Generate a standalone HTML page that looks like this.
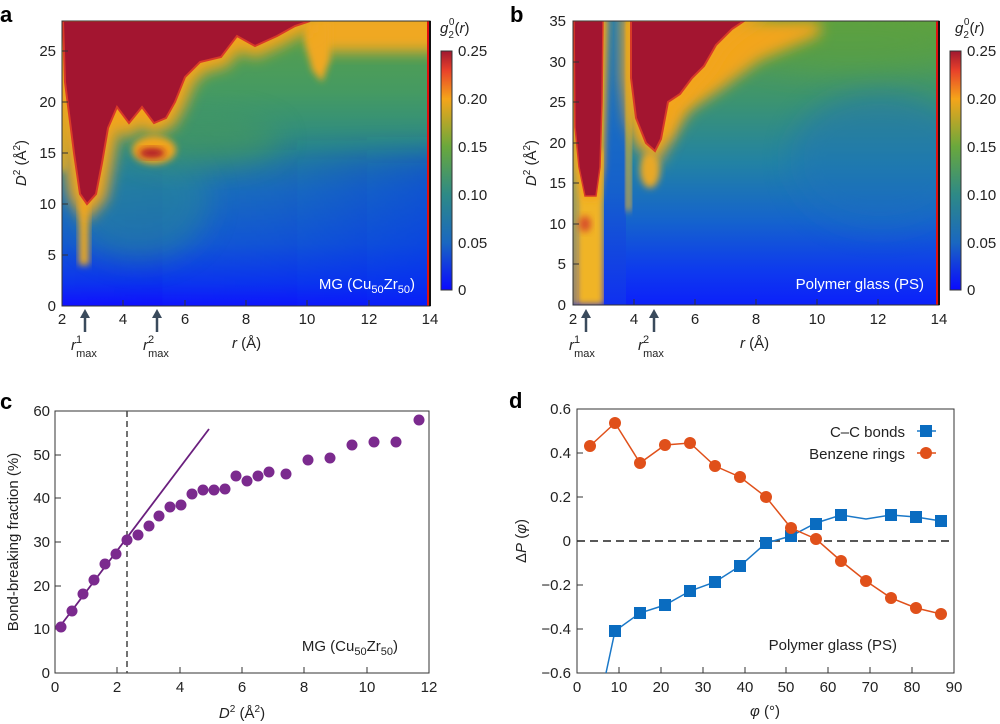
<!DOCTYPE html>
<html><head><meta charset="utf-8"><style>
body{margin:0;background:#fff;}
svg{display:block;font-family:"Liberation Sans","DejaVu Sans",sans-serif;}
.t{font-size:15px;fill:#222;}
.lab{font-size:22px;font-weight:bold;fill:#000;}
</style></head><body>
<svg width="1000" height="724" viewBox="0 0 1000 724" xmlns="http://www.w3.org/2000/svg">
<defs>
<linearGradient id="cb" x1="0" y1="1" x2="0" y2="0">
<stop offset="0" stop-color="#0a0aff"/><stop offset="0.2" stop-color="#1a68c0"/>
<stop offset="0.4" stop-color="#2e8a86"/><stop offset="0.6" stop-color="#6aa83c"/>
<stop offset="0.8" stop-color="#f5a51a"/><stop offset="0.92" stop-color="#e8402a"/>
<stop offset="1" stop-color="#a01830"/></linearGradient>
<linearGradient id="ga" x1="0" y1="0" x2="0" y2="1">
<stop offset="0" stop-color="#58a048"/><stop offset="0.25" stop-color="#459a62"/>
<stop offset="0.45" stop-color="#2a8a86"/><stop offset="0.6" stop-color="#1c72b6"/>
<stop offset="0.78" stop-color="#145ad0"/><stop offset="0.92" stop-color="#0c34ee"/>
<stop offset="1" stop-color="#1010ff"/></linearGradient>
<linearGradient id="gah" x1="0" y1="0" x2="1" y2="0">
<stop offset="0" stop-color="#0c30f0" stop-opacity="0"/><stop offset="0.5" stop-color="#0c30f0" stop-opacity="0.15"/><stop offset="1" stop-color="#0c30f0" stop-opacity="0.55"/></linearGradient>
<linearGradient id="gb" x1="0" y1="0" x2="0" y2="1">
<stop offset="0" stop-color="#62a23e"/><stop offset="0.28" stop-color="#3c9470"/>
<stop offset="0.5" stop-color="#2282a4"/><stop offset="0.7" stop-color="#1564cc"/>
<stop offset="0.88" stop-color="#0e3aee"/><stop offset="1" stop-color="#0c20fa"/></linearGradient>
<linearGradient id="gcol" x1="0" y1="0" x2="0" y2="1">
<stop offset="0" stop-color="#1f7cb4"/><stop offset="0.6" stop-color="#1560cc"/><stop offset="1" stop-color="#1030f0"/></linearGradient>
<filter id="b8" x="-30%" y="-30%" width="160%" height="160%"><feGaussianBlur stdDeviation="7"/></filter>
<filter id="b4" x="-30%" y="-30%" width="160%" height="160%"><feGaussianBlur stdDeviation="3.5"/></filter>
<filter id="b15" x="-50%" y="-50%" width="200%" height="200%"><feGaussianBlur stdDeviation="14"/></filter>
<clipPath id="ca"><rect x="62" y="21" width="368" height="285"/></clipPath>
<clipPath id="cbp"><rect x="573" y="21" width="366" height="284"/></clipPath>
</defs>

<!-- Panel a -->
<text class="lab" x="0" y="22">a</text>
<g clip-path="url(#ca)">
<rect x="62" y="21" width="368" height="285" fill="url(#ga)"/>
<rect x="62" y="150" width="420" height="200" fill="url(#gah)" filter="url(#b15)"/>
<ellipse cx="140" cy="200" rx="70" ry="60" fill="#2a8a90" opacity="0.5" filter="url(#b15)"/>
<ellipse cx="200" cy="140" rx="80" ry="25" fill="#4f9c50" opacity="0.5" filter="url(#b15)"/>
<rect x="310" y="10" width="130" height="42" fill="#f0a820" filter="url(#b8)"/>
<polygon points="305,21 330,21 330,60 322,82 312,70 305,40" fill="#f0a820" filter="url(#b4)"/>
<rect x="58" y="21" width="8" height="150" fill="#d8b02a" filter="url(#b4)"/>
<rect x="79" y="200" width="10" height="65" fill="#e8a828" filter="url(#b4)"/>
<polygon points="65,21 65,82 74,153 80,194 87,204 96,194 102,163 108,128 117,107 129,123 142,107 154,123 166,118 175,102 185,77 200,62 221,57 237,36 255,46 277,36 295,26 310,21" fill="#f2a51c" stroke="#f2a51c" stroke-width="22" filter="url(#b8)"/>
<ellipse cx="154" cy="150" rx="22" ry="14" fill="#f2a51c" filter="url(#b4)"/>
<polygon points="63,21 65,82 74,153 80,194 87,204 96,194 102,163 108,128 117,107 129,123 142,107 154,123 166,118 175,102 185,77 200,62 221,57 237,36 255,46 277,36 295,26 310,21" fill="#a31530" stroke="#d83a28" stroke-width="2"/>
<ellipse cx="152" cy="153" rx="13" ry="5" fill="#b0182a" filter="url(#b4)"/>
<rect x="427" y="21" width="3" height="285" fill="#e01010"/>
</g>
<rect x="62" y="21" width="368" height="285" fill="none" stroke="#333" stroke-width="1"/>
<line x1="430" y1="21" x2="430" y2="306" stroke="#111" stroke-width="2"/>
<g stroke="#333" stroke-width="1">
<line x1="123" y1="306" x2="123" y2="300"/><line x1="185" y1="306" x2="185" y2="300"/><line x1="246" y1="306" x2="246" y2="300"/><line x1="307" y1="306" x2="307" y2="300"/><line x1="369" y1="306" x2="369" y2="300"/>
<line x1="62" y1="255" x2="68" y2="255"/><line x1="62" y1="204" x2="68" y2="204"/><line x1="62" y1="153" x2="68" y2="153"/><line x1="62" y1="102" x2="68" y2="102"/><line x1="62" y1="51" x2="68" y2="51"/>
</g>
<g class="t" text-anchor="end"><text x="56" y="311">0</text><text x="56" y="260">5</text><text x="56" y="209">10</text><text x="56" y="158">15</text><text x="56" y="107">20</text><text x="56" y="56">25</text></g>
<g class="t" text-anchor="middle"><text x="62" y="324">2</text><text x="123" y="324">4</text><text x="185" y="324">6</text><text x="246" y="324">8</text><text x="307" y="324">10</text><text x="369" y="324">12</text><text x="430" y="324">14</text></g>
<text x="415" y="289" text-anchor="end" style="font-size:15px;fill:#fff">MG (Cu<tspan dy="4" font-size="11">50</tspan><tspan dy="-4">Zr</tspan><tspan dy="4" font-size="11">50</tspan><tspan dy="-4">)</tspan></text>
<text transform="translate(26,163) rotate(-90)" text-anchor="middle" class="t"><tspan font-style="italic">D</tspan><tspan dy="-6" font-size="10">2</tspan><tspan dy="6"> (Å</tspan><tspan dy="-6" font-size="10">2</tspan><tspan dy="6">)</tspan></text>
<g fill="#3a4a5c" stroke="#3a4a5c">
<line x1="85" y1="314" x2="85" y2="332" stroke-width="2.5"/><polygon points="85,309 80,318 90,318" stroke="none"/>
<line x1="157" y1="314" x2="157" y2="332" stroke-width="2.5"/><polygon points="157,309 152,318 162,318" stroke="none"/>
</g>
<text class="t" x="71" y="350" font-style="italic">r<tspan dy="-7" font-size="11" font-style="normal">1</tspan><tspan dx="-6" dy="14" font-size="11" font-style="normal">max</tspan></text>
<text class="t" x="143" y="350" font-style="italic">r<tspan dy="-7" font-size="11" font-style="normal">2</tspan><tspan dx="-6" dy="14" font-size="11" font-style="normal">max</tspan></text>
<text class="t" x="232" y="348" font-size="16"><tspan font-style="italic">r</tspan> (Å)</text>
<rect x="441" y="51" width="11" height="239" fill="url(#cb)" stroke="#333" stroke-width="1"/>
<g class="t"><text x="458" y="56">0.25</text><text x="458" y="104">0.20</text><text x="458" y="152">0.15</text><text x="458" y="200">0.10</text><text x="458" y="248">0.05</text><text x="458" y="295">0</text></g>
<text class="t" x="440" y="33" font-size="16"><tspan font-style="italic">g</tspan><tspan dy="5" font-size="10">2</tspan><tspan dx="-5" dy="-13" font-size="10">0</tspan><tspan dy="8">(</tspan><tspan font-style="italic">r</tspan>)</text>

<!-- Panel b -->
<text class="lab" x="510" y="22">b</text>
<g clip-path="url(#cbp)">
<rect x="573" y="21" width="366" height="284" fill="url(#gb)"/>
<ellipse cx="880" cy="160" rx="90" ry="70" fill="#1a70bc" opacity="0.45" filter="url(#b15)"/>
<ellipse cx="850" cy="40" rx="120" ry="30" fill="#5aa040" opacity="0.6" filter="url(#b15)"/>
<polygon points="640,21 820,21 820,35 760,60 720,90 690,110 670,140 640,140" fill="#f2a51c" filter="url(#b8)"/>
<rect x="570" y="21" width="6" height="284" fill="#c8b030" filter="url(#b4)"/>
<rect x="576" y="150" width="28" height="155" fill="#f0b428" filter="url(#b4)"/>
<ellipse cx="585" cy="224" rx="6" ry="8" fill="#d8502a" filter="url(#b4)"/>
<rect x="604" y="21" width="22" height="284" fill="url(#gcol)"/>
<rect x="626" y="21" width="5" height="190" fill="#e8b030" filter="url(#b4)"/>
<polygon points="575,21 575,127 579,167 585,196 596,196 600,167 602,102 604,21" fill="#f2a51c" stroke="#f2a51c" stroke-width="8" filter="url(#b4)"/>
<polygon points="631,21 631,78 636,118 646,143 655,151 661,139 668,102 680,94 692,78 704,66 716,45 732,29 744,21" fill="#f2a51c" stroke="#f2a51c" stroke-width="18" filter="url(#b8)"/>
<ellipse cx="650" cy="170" rx="10" ry="18" fill="#e8a828" filter="url(#b4)"/>
<polygon points="574,21 575,127 579,167 585,196 596,196 600,167 602,102 603,21" fill="#a31530" stroke="#d83a28" stroke-width="1.5"/>
<polygon points="631,21 631,78 636,118 646,143 655,151 661,139 668,102 680,94 692,78 704,66 716,45 732,29 744,21" fill="#a31530" stroke="#d83a28" stroke-width="2"/>
<rect x="936" y="21" width="3" height="284" fill="#e01010"/>
</g>
<rect x="573" y="21" width="366" height="284" fill="none" stroke="#333" stroke-width="1"/>
<line x1="939" y1="21" x2="939" y2="305" stroke="#111" stroke-width="2"/>
<g stroke="#333" stroke-width="1">
<line x1="634" y1="305" x2="634" y2="299"/><line x1="695" y1="305" x2="695" y2="299"/><line x1="756" y1="305" x2="756" y2="299"/><line x1="817" y1="305" x2="817" y2="299"/><line x1="878" y1="305" x2="878" y2="299"/>
<line x1="573" y1="264" x2="579" y2="264"/><line x1="573" y1="224" x2="579" y2="224"/><line x1="573" y1="183" x2="579" y2="183"/><line x1="573" y1="143" x2="579" y2="143"/><line x1="573" y1="102" x2="579" y2="102"/><line x1="573" y1="62" x2="579" y2="62"/>
</g>
<g class="t" text-anchor="end"><text x="566" y="310">0</text><text x="566" y="269">5</text><text x="566" y="229">10</text><text x="566" y="188">15</text><text x="566" y="148">20</text><text x="566" y="107">25</text><text x="566" y="67">30</text><text x="566" y="26">35</text></g>
<g class="t" text-anchor="middle"><text x="573" y="324">2</text><text x="634" y="324">4</text><text x="695" y="324">6</text><text x="756" y="324">8</text><text x="817" y="324">10</text><text x="878" y="324">12</text><text x="939" y="324">14</text></g>
<text x="924" y="289" text-anchor="end" style="font-size:15px;fill:#fff">Polymer glass (PS)</text>
<text transform="translate(536,163) rotate(-90)" text-anchor="middle" class="t"><tspan font-style="italic">D</tspan><tspan dy="-6" font-size="10">2</tspan><tspan dy="6"> (Å</tspan><tspan dy="-6" font-size="10">2</tspan><tspan dy="6">)</tspan></text>
<g fill="#3a4a5c" stroke="#3a4a5c">
<line x1="586" y1="314" x2="586" y2="332" stroke-width="2.5"/><polygon points="586,309 581,318 591,318" stroke="none"/>
<line x1="654" y1="314" x2="654" y2="332" stroke-width="2.5"/><polygon points="654,309 649,318 659,318" stroke="none"/>
</g>
<text class="t" x="569" y="350" font-style="italic">r<tspan dy="-7" font-size="11" font-style="normal">1</tspan><tspan dx="-6" dy="14" font-size="11" font-style="normal">max</tspan></text>
<text class="t" x="638" y="350" font-style="italic">r<tspan dy="-7" font-size="11" font-style="normal">2</tspan><tspan dx="-6" dy="14" font-size="11" font-style="normal">max</tspan></text>
<text class="t" x="740" y="348" font-size="16"><tspan font-style="italic">r</tspan> (Å)</text>
<rect x="950" y="51" width="11" height="239" fill="url(#cb)" stroke="#333" stroke-width="1"/>
<g class="t"><text x="967" y="56">0.25</text><text x="967" y="104">0.20</text><text x="967" y="152">0.15</text><text x="967" y="200">0.10</text><text x="967" y="248">0.05</text><text x="967" y="295">0</text></g>
<text class="t" x="955" y="33" font-size="16"><tspan font-style="italic">g</tspan><tspan dy="5" font-size="10">2</tspan><tspan dx="-5" dy="-13" font-size="10">0</tspan><tspan dy="8">(</tspan><tspan font-style="italic">r</tspan>)</text>

<!-- Panel c -->
<text class="lab" x="0" y="409">c</text>
<rect x="55" y="411" width="374" height="262" fill="none" stroke="#333" stroke-width="1"/>
<g stroke="#333" stroke-width="1">
<line x1="117" y1="673" x2="117" y2="667"/><line x1="180" y1="673" x2="180" y2="667"/><line x1="242" y1="673" x2="242" y2="667"/><line x1="304" y1="673" x2="304" y2="667"/><line x1="367" y1="673" x2="367" y2="667"/>
<line x1="55" y1="629" x2="61" y2="629"/><line x1="55" y1="586" x2="61" y2="586"/><line x1="55" y1="542" x2="61" y2="542"/><line x1="55" y1="498" x2="61" y2="498"/><line x1="55" y1="455" x2="61" y2="455"/>
</g>
<g class="t" text-anchor="end"><text x="50" y="678">0</text><text x="50" y="634">10</text><text x="50" y="591">20</text><text x="50" y="547">30</text><text x="50" y="503">40</text><text x="50" y="460">50</text><text x="50" y="416">60</text></g>
<g class="t" text-anchor="middle"><text x="55" y="692">0</text><text x="117" y="692">2</text><text x="180" y="692">4</text><text x="242" y="692">6</text><text x="304" y="692">8</text><text x="367" y="692">10</text><text x="429" y="692">12</text></g>
<line x1="127" y1="411" x2="127" y2="673" stroke="#444" stroke-width="1.5" stroke-dasharray="6,4"/>
<line x1="58" y1="629" x2="209" y2="429" stroke="#6a1f7e" stroke-width="1.8"/>
<g fill="#7b2a8e">
<circle cx="61" cy="627" r="5.5"/><circle cx="72" cy="611" r="5.5"/><circle cx="83" cy="594" r="5.5"/><circle cx="94" cy="580" r="5.5"/><circle cx="105" cy="564" r="5.5"/><circle cx="116" cy="554" r="5.5"/><circle cx="127" cy="540" r="5.5"/><circle cx="138" cy="535" r="5.5"/><circle cx="149" cy="526" r="5.5"/><circle cx="159" cy="516" r="5.5"/><circle cx="170" cy="507" r="5.5"/><circle cx="181" cy="505" r="5.5"/><circle cx="192" cy="494" r="5.5"/><circle cx="203" cy="490" r="5.5"/><circle cx="214" cy="490" r="5.5"/><circle cx="225" cy="489" r="5.5"/><circle cx="236" cy="476" r="5.5"/><circle cx="247" cy="481" r="5.5"/><circle cx="258" cy="476" r="5.5"/><circle cx="269" cy="472" r="5.5"/><circle cx="286" cy="474" r="5.5"/><circle cx="308" cy="460" r="5.5"/><circle cx="330" cy="458" r="5.5"/><circle cx="352" cy="445" r="5.5"/><circle cx="374" cy="442" r="5.5"/><circle cx="396" cy="442" r="5.5"/><circle cx="419" cy="420" r="5.5"/>
</g>
<text x="398" y="651" text-anchor="end" style="font-size:15px;fill:#222">MG (Cu<tspan dy="4" font-size="11">50</tspan><tspan dy="-4">Zr</tspan><tspan dy="4" font-size="11">50</tspan><tspan dy="-4">)</tspan></text>
<text transform="translate(18,542) rotate(-90)" text-anchor="middle" class="t" font-size="16">Bond-breaking fraction (%)</text>
<text class="t" x="242" y="718" text-anchor="middle" font-size="16"><tspan font-style="italic">D</tspan><tspan dy="-6" font-size="10">2</tspan><tspan dy="6"> (Å</tspan><tspan dy="-6" font-size="10">2</tspan><tspan dy="6">)</tspan></text>

<!-- Panel d -->
<text class="lab" x="509" y="408">d</text>
<rect x="577" y="409" width="377" height="264" fill="none" stroke="#333" stroke-width="1"/>
<g stroke="#333" stroke-width="1">
<line x1="619" y1="673" x2="619" y2="667"/><line x1="661" y1="673" x2="661" y2="667"/><line x1="703" y1="673" x2="703" y2="667"/><line x1="745" y1="673" x2="745" y2="667"/><line x1="786" y1="673" x2="786" y2="667"/><line x1="828" y1="673" x2="828" y2="667"/><line x1="870" y1="673" x2="870" y2="667"/><line x1="912" y1="673" x2="912" y2="667"/>
<line x1="577" y1="629" x2="583" y2="629"/><line x1="577" y1="585" x2="583" y2="585"/><line x1="577" y1="497" x2="583" y2="497"/><line x1="577" y1="453" x2="583" y2="453"/>
</g>
<g class="t" text-anchor="end"><text x="571" y="678">−0.6</text><text x="571" y="634">−0.4</text><text x="571" y="590">−0.2</text><text x="571" y="546">0</text><text x="571" y="502">0.2</text><text x="571" y="458">0.4</text><text x="571" y="414">0.6</text></g>
<g class="t" text-anchor="middle"><text x="577" y="692">0</text><text x="619" y="692">10</text><text x="661" y="692">20</text><text x="703" y="692">30</text><text x="745" y="692">40</text><text x="786" y="692">50</text><text x="828" y="692">60</text><text x="870" y="692">70</text><text x="912" y="692">80</text><text x="954" y="692">90</text></g>
<line x1="577" y1="541" x2="954" y2="541" stroke="#222" stroke-width="1.5" stroke-dasharray="8,5"/>
<polyline points="606,673 615,631 640,613 665,605 690,591 715,582 740,566 766,543 791,536 816,523 841,515 866,519 891,515 916,517 941,521" fill="none" stroke="#1a78c8" stroke-width="1.5"/>
<g fill="#0a6cc0">
<rect x="609" y="625" width="12" height="12"/><rect x="634" y="607" width="12" height="12"/><rect x="659" y="599" width="12" height="12"/><rect x="684" y="585" width="12" height="12"/><rect x="709" y="576" width="12" height="12"/><rect x="734" y="560" width="12" height="12"/><rect x="760" y="537" width="12" height="12"/><rect x="785" y="530" width="12" height="12"/><rect x="810" y="518" width="12" height="12"/><rect x="835" y="509" width="12" height="12"/><rect x="885" y="509" width="12" height="12"/><rect x="910" y="511" width="12" height="12"/><rect x="935" y="515" width="12" height="12"/>
</g>
<polyline points="590,446 615,423 640,463 665,445 690,443 715,466 740,477 766,497 791,528 816,539 841,561 866,581 891,598 916,608 941,614" fill="none" stroke="#e0501a" stroke-width="1.5"/>
<g fill="#e0501a">
<circle cx="590" cy="446" r="6"/><circle cx="615" cy="423" r="6"/><circle cx="640" cy="463" r="6"/><circle cx="665" cy="445" r="6"/><circle cx="690" cy="443" r="6"/><circle cx="715" cy="466" r="6"/><circle cx="740" cy="477" r="6"/><circle cx="766" cy="497" r="6"/><circle cx="791" cy="528" r="6"/><circle cx="816" cy="539" r="6"/><circle cx="841" cy="561" r="6"/><circle cx="866" cy="581" r="6"/><circle cx="891" cy="598" r="6"/><circle cx="916" cy="608" r="6"/><circle cx="941" cy="614" r="6"/>
</g>
<text class="t" x="905" y="437" text-anchor="end" font-size="16">C–C bonds</text>
<text class="t" x="905" y="459" text-anchor="end" font-size="16">Benzene rings</text>
<line x1="917" y1="431" x2="936" y2="431" stroke="#1a78c8" stroke-width="1.5"/><rect x="920" y="425" width="12" height="12" fill="#0a6cc0"/>
<line x1="917" y1="453" x2="936" y2="453" stroke="#e0501a" stroke-width="1.5"/><circle cx="926" cy="453" r="6" fill="#e0501a"/>
<text class="t" x="897" y="650" text-anchor="end" font-size="16">Polymer glass (PS)</text>
<text transform="translate(526,541) rotate(-90)" text-anchor="middle" class="t" font-size="16">Δ<tspan font-style="italic">P</tspan> (<tspan font-style="italic">φ</tspan>)</text>
<text class="t" x="765" y="716" text-anchor="middle" font-size="16"><tspan font-style="italic">φ</tspan> (°)</text>
</svg>
</body></html>
